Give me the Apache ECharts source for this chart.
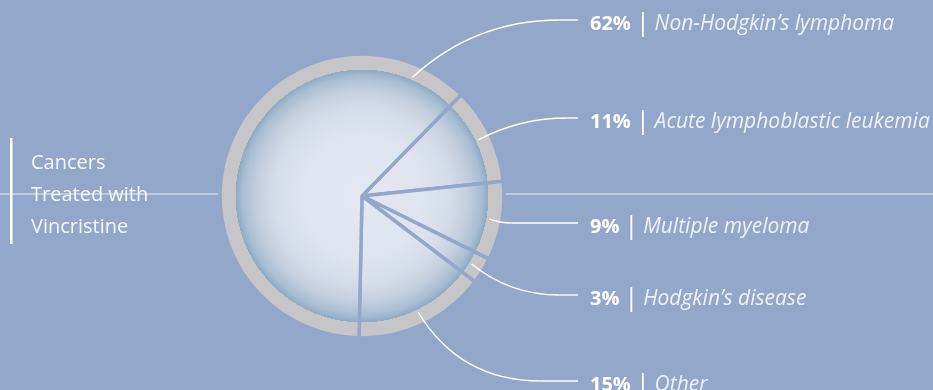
<!DOCTYPE html>
<html>

<head>
    <meta charset="utf-8">
    <title>Cancers Treated with Vincristine</title>
    <script src="https://cdn.jsdelivr.net/npm/echarts@6/dist/echarts.min.js"></script>
</head>

<body style="margin:0;background:#92a7c9;">
    <div id="main" style="width:933px;height:390px;"></div>
    <script type="text/javascript">
        // data, in clockwise order starting at the upper right
        var names = ['Acute lymphoblastic leukemia', 'Multiple myeloma', 'Hodgkin’s disease', 'Other', 'Non-Hodgkin’s lymphoma'];
        var values = [11, 9, 3, 15, 62];
        var titleLines = ['Cancers', 'Treated with', 'Vincristine'];

        // layout
        var bg = '#92a7c9';
        var cx = 362, cy = 196, rOuter = 142;
        var startDeg = 45.6;               // echarts angle (ccw from 3 o'clock)
        var labelX = 590, lineEndX = 578;
        var labelY = [122, 227, 299, 385, 24];
        var cornerX = [520, 500, 510, 460, 475];
        var anchorOverride = { 4: 23 };    // degrees clockwise from 12 o'clock

        var total = values.reduce(function (a, b) { return a + b; }, 0);
        var anchorDeg = [];
        var acc = 90 - startDeg;
        for (var i = 0; i < values.length; i++) {
            var span = values[i] / total * 360;
            anchorDeg.push(anchorOverride[i] != null ? anchorOverride[i] : acc + span / 2);
            acc += span;
        }

        // leader lines: a rounded corner into a horizontal run ending before the text
        var leaders = [];
        anchorDeg.forEach(function (deg, i) {
            var a = deg * Math.PI / 180;
            var sx = cx + 129 * Math.sin(a), sy = cy - 129 * Math.cos(a);
            var ly = labelY[i] - 4;
            var d = Math.sqrt(Math.pow(cornerX[i] - sx, 2) + Math.pow(ly - sy, 2));
            var px = Math.min(cornerX[i] + d, lineEndX - 4);
            leaders.push({
                type: 'bezierCurve', z: 10, silent: true,
                shape: { x1: sx, y1: sy, x2: px, y2: ly, cpx1: cornerX[i], cpy1: ly },
                style: { stroke: '#ffffff', lineWidth: 1.4, fill: null }
            });
            leaders.push({
                type: 'line', z: 10, silent: true,
                shape: { x1: px, y1: ly, x2: lineEndX, y2: ly },
                style: { stroke: '#ffffff', lineWidth: 1.4 }
            });
        });

        var myChart = echarts.init(document.getElementById('main'));

        var pieFill = {
            type: 'radial', x: cx, y: cy, r: rOuter, global: true,
            colorStops: [
                { offset: 0, color: '#e3e8f2' },
                { offset: 0.4, color: '#dfe5f0' },
                { offset: 0.6, color: '#d6deeb' },
                { offset: 0.74, color: '#c4d0e0' },
                { offset: 0.84, color: '#a9bdd2' },
                { offset: 0.89, color: '#8eaac4' },
                { offset: 0.89, color: '#c6c6c8' },
                { offset: 1, color: '#c6c6c8' }
            ]
        };

        myChart.setOption({
            backgroundColor: bg,
            animation: false,
            graphic: [
                {
                    type: 'line', z: 0,
                    shape: { x1: 0, y1: 194, x2: 933, y2: 194 },
                    style: { stroke: '#c9d4e8', lineWidth: 1.5 }
                },
                {
                    type: 'rect', z: 1,
                    shape: { x: 10, y: 138, width: 2.5, height: 106 },
                    style: { fill: '#ffffff' }
                },
                {
                    type: 'text', z: 1, x: 31, y: 195,
                    style: {
                        text: titleLines.join('\n'),
                        fill: '#f5f7fb',
                        font: '20px "Open Sans"',
                        lineHeight: 32,
                        verticalAlign: 'middle'
                    }
                }
            ].concat(leaders),
            series: [{
                type: 'pie',
                z: 5,
                center: [cx, cy],
                radius: [0, rOuter],
                startAngle: startDeg,
                clockwise: true,
                silent: true,
                emphasis: { disabled: true },
                itemStyle: {
                    color: pieFill,
                    borderColor: bg,
                    borderWidth: 3.5
                },
                label: {
                    show: true,
                    overflow: 'none',
                    formatter: function (p) {
                        return '{p|' + p.value + '%}{s||}{n|' + p.name + '}';
                    },
                    rich: {
                        p: { fontFamily: 'Open Sans', fontWeight: 'bold', fontSize: 20, color: '#ffffff' },
                        s: { fontFamily: 'Open Sans', fontSize: 25, color: '#ffffff', padding: [0, 5, 0, 5] },
                        n: { fontFamily: 'Open Sans', fontStyle: 'italic', fontSize: 21, color: '#eef2f8' }
                    }
                },
                labelLine: { show: false },
                labelLayout: function (params) {
                    var i = params.dataIndex;
                    return { x: labelX, y: labelY[i], align: 'left', verticalAlign: 'middle' };
                },
                data: names.map(function (n, i) {
                    return { name: n, value: values[i] };
                })
            }]
        });
    </script>
</body>

</html>
